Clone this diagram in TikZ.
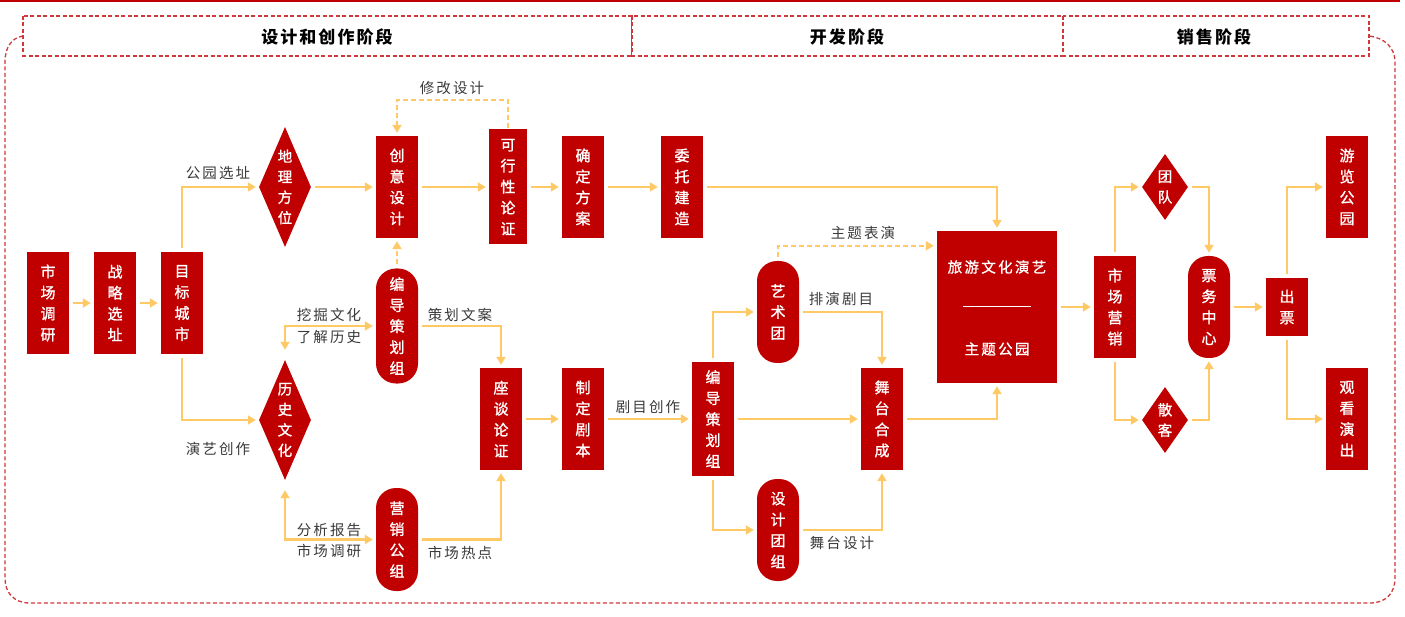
\documentclass[tikz,border=0pt]{standalone}
\usepackage{fontspec}
\setmainfont{Noto Sans CJK SC}
\newfontfamily\lblfnt[LetterSpace=14]{Noto Sans CJK SC}
\newfontfamily\hdrfnt[LetterSpace=12]{Noto Sans CJK SC}
\newfontfamily\boxfnt[FakeBold=1.2]{Noto Sans CJK SC}
\newfontfamily\wideboxfnt[LetterSpace=16,FakeBold=1.2]{Noto Sans CJK SC}
\usetikzlibrary{arrows.meta,shapes.geometric,calc}
\definecolor{nodered}{HTML}{C00000}
\definecolor{arrc}{HTML}{FFC966}
\definecolor{dashred}{HTML}{D0393B}
\definecolor{lblgray}{HTML}{3A3A3A}
\tikzset{
  box/.style={fill=nodered,text=white,inner sep=0pt,minimum width=42,minimum height=102,
    align=center,font=\boxfnt\fontsize{15}{21}\selectfont},
  stadium/.style={box,rounded corners=20},
  dia/.style={diamond,fill=nodered,inner sep=0pt,minimum width=52,minimum height=120},
  diatxt/.style={text=white,inner sep=0pt,align=center,font=\boxfnt\fontsize{14.5}{20.5}\selectfont},
  arr/.style={draw=arrc,line width=2.2,-{Triangle[length=8pt,width=9pt]},shorten >=3pt,shorten <=4pt},
  arrboth/.style={draw=arrc,line width=2.2,{Triangle[length=8pt,width=9pt]}-{Triangle[length=8pt,width=9pt]},shorten >=3pt,shorten <=10pt},
  adash/.style={dash pattern=on 5pt off 3pt},
  lbl/.style={text=lblgray,inner sep=0pt,font=\lblfnt\fontsize{14.5}{17}\selectfont},
  hdr/.style={draw=dashred,line width=1.3,dash pattern=on 4pt off 2.5pt},
  hdrtxt/.style={inner sep=0pt,font=\hdrfnt\bfseries\fontsize{17}{20}\selectfont},
}
\begin{document}
\begin{tikzpicture}[x=1pt,y=-1pt]
\useasboundingbox (0,0) rectangle (1405,617);
\fill[white] (0,0) rectangle (1405,617);
% top line
\draw[nodered,line width=1.6] (0,1) -- (1400,1);
% outer dashed frame
\draw[hdr] (23,36) .. controls (11,38) and (5,48) .. (5,62) -- (5,578)
  .. controls (5,593) and (14,603) .. (30,603) -- (1370,603)
  .. controls (1386,603) and (1395,593) .. (1395,578) -- (1395,62)
  .. controls (1395,48) and (1385,38) .. (1369,36);
% header
\draw[hdr,fill=white] (23,16) rectangle (632,56);
\draw[hdr,fill=white] (632,16) rectangle (1063,56);
\draw[hdr,fill=white] (1063,16) rectangle (1369,56);
\node[hdrtxt] (h1) at (327,37) {设计和创作阶段};
\node[hdrtxt] (h2) at (847,37) {开发阶段};
\node[hdrtxt] (h3) at (1214,37) {销售阶段};

% nodes
\node[box] (mkt) at (48,303) {市\\场\\调\\研};
\node[box] (zl) at (115,303) {战\\略\\选\\址};
\node[box] (mb) at (182,303) {目\\标\\城\\市};
\node[dia] (dl) at (285,187) {};
\node[diatxt] (dlt) at (dl.center) {地\\理\\方\\位};
\node[dia] (ls) at (285,420) {};
\node[diatxt] (lst) at (ls.center) {历\\史\\文\\化};
\node[box] (cy) at (397,187) {创\\意\\设\\计};
\node[stadium,minimum height=115] (bd1) at (397,326) {编\\导\\策\\划\\组};
\node[stadium,minimum height=103] (yx) at (397,539.5) {营\\销\\公\\组};
\node[box,minimum width=38,minimum height=115] (kx) at (508,187) {可\\行\\性\\论\\证};
\node[box] (qd) at (583,187) {确\\定\\方\\案};
\node[box] (wt) at (682,187) {委\\托\\建\\造};
\node[box] (zt) at (501,419) {座\\谈\\论\\证};
\node[box] (zd) at (583,419) {制\\定\\剧\\本};
\node[box,minimum height=114] (bd2) at (713,419) {编\\导\\策\\划\\组};
\node[stadium] (ys) at (778,312) {艺\\术\\团};
\node[stadium] (sj) at (778,530) {设\\计\\团\\组};
\node[box] (wh) at (882,419) {舞\\台\\合\\成};
\node[box,minimum width=120,minimum height=152] (ly) at (997,307) {};
\node[text=white,inner sep=0pt,font=\wideboxfnt\fontsize{14.5}{17}\selectfont] (lyt1) at (997,267) {旅游文化演艺};
\node[text=white,inner sep=0pt,font=\wideboxfnt\fontsize{14.5}{17}\selectfont] (lyt2) at (997,349) {主题公园};
\draw[white,line width=1] (963,307) -- (1031,307);
\node[box] (scyx) at (1115,307) {市\\场\\营\\销};
\node[dia,minimum width=46,minimum height=66] (td) at (1165,187) {};
\node[diatxt] (tdt) at (td.center) {团\\队};
\node[dia,minimum width=46,minimum height=66] (sk) at (1165,420) {};
\node[diatxt] (skt) at (sk.center) {散\\客};
\node[stadium] (pw) at (1209,307) {票\\务\\中\\心};
\node[box,minimum height=58] (cp) at (1287,307) {出\\票};
\node[box] (ylgy) at (1347,187) {游\\览\\公\\园};
\node[box] (gkyc) at (1347,419) {观\\看\\演\\出};

% connectors
\draw[arr] (mkt) -- (zl);
\draw[arr] (zl) -- (mb);
\draw[arr] (mb.north) |- (dl.west);
\draw[arr] (mb.south) |- (ls.west);
\draw[arr] (dl.east) -- (cy.west);
\draw[arrboth] (ls.north) |- (bd1.west);
\draw[arrboth] (ls.south) |- (yx.west);
\draw[arr,adash] (bd1.north) -- (cy.south);
\draw[arr] (cy.east) -- (kx.west);
\coordinate (xg) at (452,100);
\draw[arr,adash,shorten <=1pt] (kx.north) |- (xg) -| (cy.north);
\draw[arr] (kx) -- (qd);
\draw[arr] (qd) -- (wt);
\draw[arr] (wt.east) -| (ly.north);
\draw[arr] (bd1.east) -| (zt.north);
\draw[arr] (yx.east) -| (zt.south);
\draw[arr] (zt) -- (zd);
\draw[arr] (zd) -- (bd2);
\draw[arr] (bd2.north) |- (ys.west);
\draw[arr] (bd2) -- (wh);
\draw[arr] (bd2.south) |- (sj.west);
\draw[arr] (ys.east) -| (wh.north);
\draw[arr] (sj.east) -| (wh.south);
\draw[arr,adash] (ys.north) |- ([yshift=-15pt]ly.north west);
\draw[arr] (wh.east) -| (ly.south);
\draw[arr] (ly) -- (scyx);
\draw[arr] (scyx.north) |- (td.west);
\draw[arr] (td.east) -| (pw.north);
\draw[arr] (scyx.south) |- (sk.west);
\draw[arr] (sk.east) -| (pw.south);
\draw[arr] (pw) -- (cp);
\draw[arr] (cp.north) |- (ylgy.west);
\draw[arr] (cp.south) |- (gkyc.west);

% labels
\node[lbl] (l1) at (218,173) {公园选址};
\node[lbl] (l2) at (218,449) {演艺创作};
\node[lbl] (l3) at (329,315) {挖掘文化};
\node[lbl] (l4) at (329,337) {了解历史};
\node[lbl] (l5) at (329,530) {分析报告};
\node[lbl] (l6) at (329,551) {市场调研};
\node[lbl] (l7) at (452,88) {修改设计};
\node[lbl] (l8) at (460,315) {策划文案};
\node[lbl] (l9) at (460,553) {市场热点};
\node[lbl] (l10) at (648,407) {剧目创作};
\node[lbl] (l11) at (863,233) {主题表演};
\node[lbl] (l12) at (841,299) {排演剧目};
\node[lbl] (l13) at (842,543) {舞台设计};
\end{tikzpicture}
\end{document}
